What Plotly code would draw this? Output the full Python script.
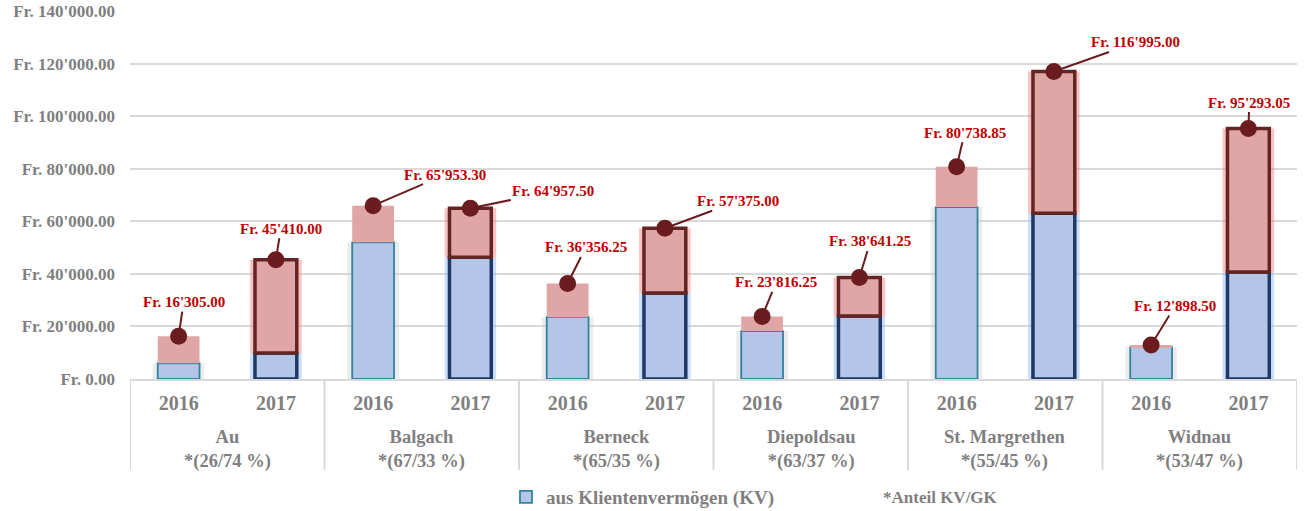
import plotly.graph_objects as go

# ---- data ----
gemeinden = ["Au", "Balgach", "Berneck", "Diepoldsau", "St. Margrethen", "Widnau"]
anteile = ["26/74", "67/33", "65/35", "63/37", "55/45", "53/47"]
jahre = ["2016", "2017"]
total = [16305.00, 45410.00, 65953.30, 64957.50, 36356.25, 57375.00,
         23816.25, 38641.25, 80738.85, 116995.00, 12898.50, 95293.05]
kv = [6000, 9900, 52000, 46300, 23600, 32700,
      18250, 24000, 65400, 63100, 12160, 40700]
# label offsets (pixels) of the value callouts relative to the bar top
label_dx = [5, 5, 72, 83, 18, 73, 14, 11, 8, 82, 24, 1]
label_dy = [-34, -31, -31, -17, -36, -27, -34, -36, -34, -29, -39, -26]

# ---- derived ----
gk = [t - k for t, k in zip(total, kv)]
n_years = len(jahre)
xs = list(range(len(gemeinden) * n_years))
year_text = [j for _ in gemeinden for j in jahre]
is17 = [j == "2017" for j in year_text]

FONT = "Liberation Serif"
GRAY = "#7f7f7f"
RED_TXT = "#c00000"
DOT = "#6b1c1f"
GRID = "#d9d9d9"

W, HGT = 1307, 511
L, R, T, B = 130, 10, 11, 132
H_PLOT = HGT - T - B
W_PLOT = W - L - R


def py(pix):  # pixel row -> paper y
    return (HGT - B - pix) / H_PLOT


def px(pix):  # pixel column -> paper x
    return (pix - L) / W_PLOT


fig = go.Figure()

# glow behind bars
fig.add_trace(go.Bar(
    x=xs, y=kv, base=[0] * len(kv), width=0.53,
    marker=dict(color=["rgba(140,185,245,0.45)" if b else "rgba(200,200,200,0.35)" for b in is17],
                line=dict(width=0)),
    showlegend=False, hoverinfo="skip"))
fig.add_trace(go.Bar(
    x=xs, y=gk, base=kv, width=0.53,
    marker=dict(color=["rgba(245,120,120,0.45)" if b else "rgba(0,0,0,0)" for b in is17],
                line=dict(width=0)),
    showlegend=False, hoverinfo="skip"))

# KV part
fig.add_trace(go.Bar(
    name="aus Klientenvermögen (KV)",
    x=xs, y=kv, base=[0] * len(kv), width=0.43,
    marker=dict(color="#b3c6e8",
                line=dict(color=["#1f3864" if b else "#31849b" for b in is17],
                          width=[3.5 if b else 1.8 for b in is17])),
    showlegend=True))
# GK part
fig.add_trace(go.Bar(
    name="GK",
    x=xs, y=gk, base=kv, width=0.43,
    marker=dict(color="#e0a5a5",
                line=dict(color=["#632523" if b else "rgba(0,0,0,0)" for b in is17],
                          width=[3.5 if b else 0 for b in is17])),
    showlegend=False))

# dots on the bar tops
fig.add_trace(go.Scatter(
    x=xs, y=total, mode="markers",
    marker=dict(size=17, color=DOT), showlegend=False, hoverinfo="skip"))

# value callouts
for xi, t, dx, dy in zip(xs, total, label_dx, label_dy):
    fig.add_annotation(
        x=xi, y=t, xref="x", yref="y",
        text=f"Fr. {t:,.2f}".replace(",", "'"),
        showarrow=True, arrowhead=0, arrowwidth=2, arrowcolor=DOT,
        ax=dx, ay=dy,
        font=dict(family=FONT, size=15, color=RED_TXT, weight="bold"))

# group labels under the year ticks
for g, (name, share) in enumerate(zip(gemeinden, anteile)):
    fig.add_annotation(
        x=g * n_years + (n_years - 1) / 2, y=py(450), xref="x", yref="paper",
        text=f"{name}<br>*({share} %)", showarrow=False,
        xanchor="center", yanchor="middle",
        font=dict(family=FONT, size=18.5, color=GRAY, weight="bold"))

# group dividers
for g in range(len(gemeinden) + 1):
    fig.add_shape(type="line", xref="x", yref="paper",
                  x0=g * n_years - 0.5, x1=g * n_years - 0.5,
                  y0=0, y1=py(470),
                  line=dict(color=GRID, width=2))

fig.add_annotation(
    x=px(940), y=py(497), xref="paper", yref="paper",
    text="*Anteil KV/GK", showarrow=False, xanchor="center", yanchor="middle",
    font=dict(family=FONT, size=17, color=GRAY, weight="bold"))

fig.update_layout(
    width=W, height=HGT,
    margin=dict(l=L, r=R, t=T, b=B, autoexpand=False),
    paper_bgcolor="white", plot_bgcolor="white",
    barmode="overlay",
    separators=".'",
    showlegend=True,
    legend=dict(orientation="h", x=px(506), y=py(497),
                xanchor="left", yanchor="middle",
                font=dict(family=FONT, size=19, color=GRAY, weight="bold"),
                bgcolor="rgba(0,0,0,0)"),
    xaxis=dict(range=[-0.5, len(xs) - 0.5], tickvals=xs, ticktext=year_text,
               showgrid=False, zeroline=False, automargin=False,
               showline=True, linecolor=GRID, linewidth=2,
               ticks="", ticklabelstandoff=5,
               tickfont=dict(family=FONT, size=20, color=GRAY, weight="bold")),
    yaxis=dict(range=[0, 140000], dtick=20000, tickformat=",.2f", tickprefix="Fr. ",
               showgrid=True, gridcolor=GRID, gridwidth=2, zeroline=False,
               automargin=False, ticks="", ticklabelstandoff=14,
               tickfont=dict(family=FONT, size=17, color=GRAY, weight="bold")),
)

fig.write_html("out.html",
               config={"displayModeBar": False},
               post_script="document.body.style.margin='0';document.body.style.overflow='hidden';")
